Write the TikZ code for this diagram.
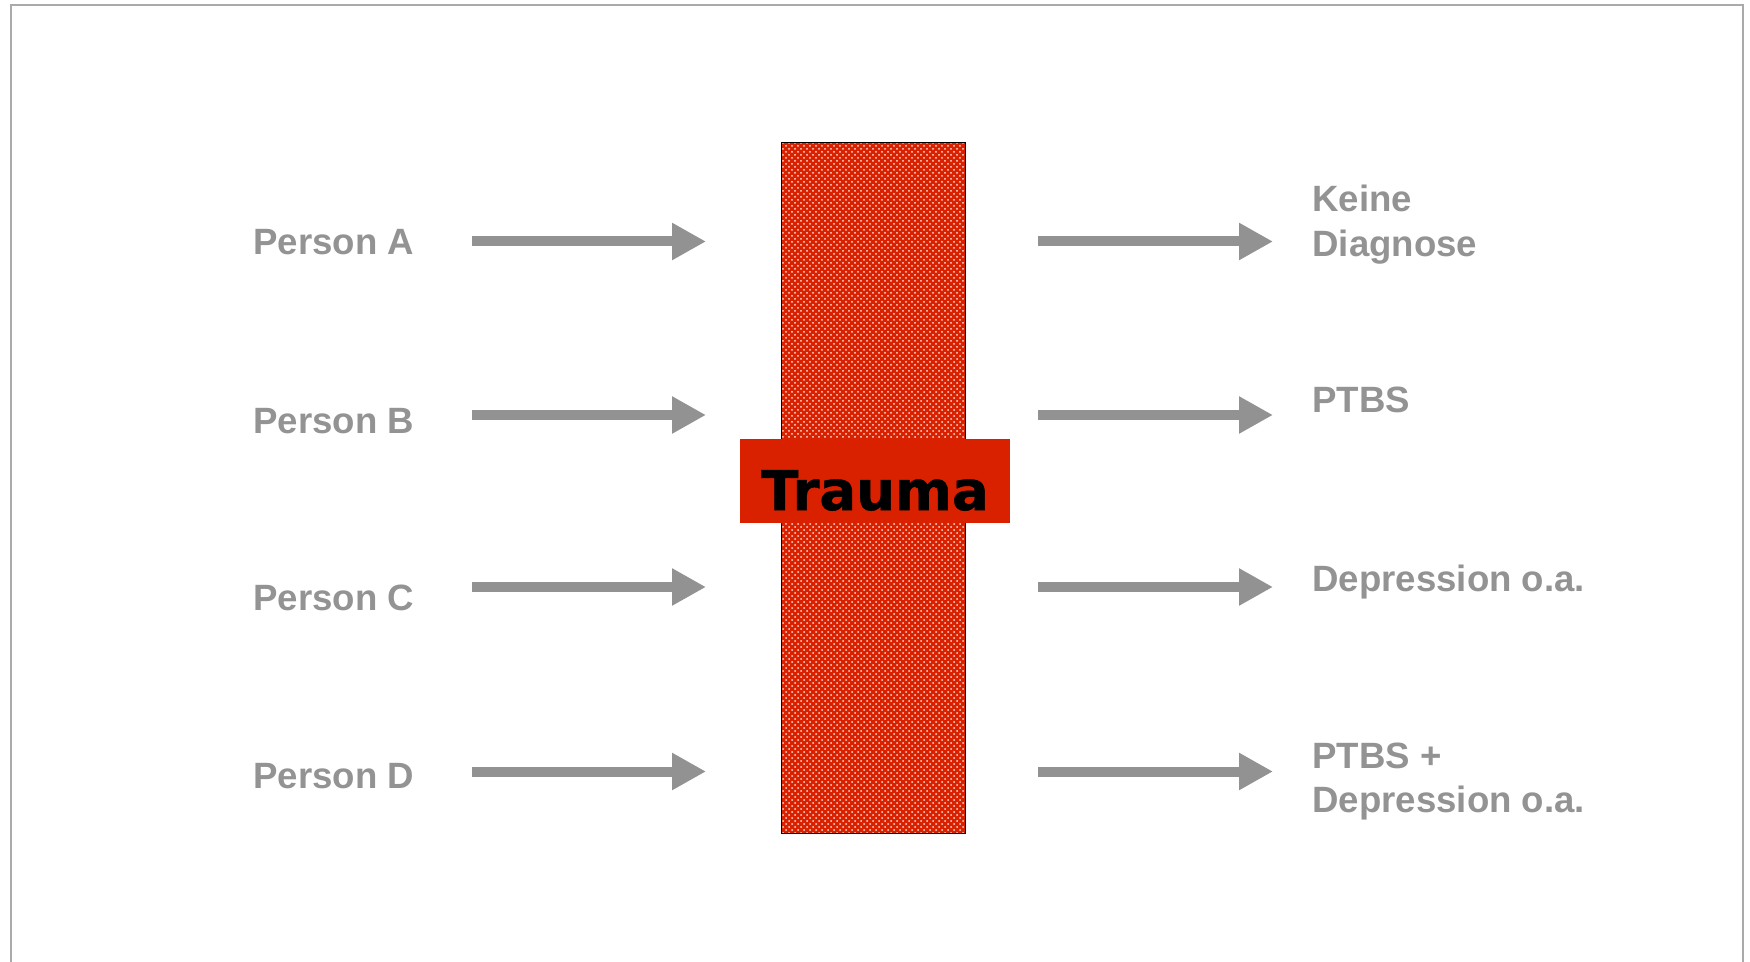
\documentclass[tikz,border=0pt]{standalone}
\usepackage{fontspec}
\setmainfont{Liberation Sans}
\newfontfamily\heavyfont{DejaVu Sans}[BoldFeatures={FakeBold=1}]
\usepackage{xcolor}
\usetikzlibrary{arrows.meta, patterns}
\definecolor{traumared}{RGB}{217,33,0}
\definecolor{labelgray}{RGB}{147,147,147}
\definecolor{arrowgray}{RGB}{146,146,146}
\definecolor{framegray}{RGB}{170,170,170}

\begin{document}
\begin{tikzpicture}[
    x=0.5pt, y=-0.5pt,
    person/.style={anchor=base west, inner sep=0pt, text=labelgray, font=\fontsize{18.3}{22.2}\selectfont\bfseries},
    outcome/.style={person, align=left},
    line/.style={draw=arrowgray, line width=5pt, -{Triangle[length=17pt, width=17.5pt]}},
    barbox/.style={rectangle, draw=black, line width=0.5pt, minimum width=92pt, minimum height=345pt, inner sep=0pt,
        preaction={fill=traumared}, pattern=crosshatch dots, pattern color=white!85!traumared},
    traumabox/.style={rectangle, fill=traumared, minimum width=135pt, minimum height=42pt, inner sep=0pt},
]
\useasboundingbox (0,0) rectangle (1750,962);
\draw [framegray, line width=1pt] (10.5,962) -- (10.5,5.5) -- (1743,5.5) -- (1743,962);

% the trauma bar
\node [barbox] (bar) at (873,488) {};
\node [traumabox] (tbox) at (875,481) {};
\node [anchor=base, inner sep=0pt, font=\heavyfont\bfseries\fontsize{27.3}{30}\selectfont] (tlabel) at (875,510) {Trauma};

% persons
\node [person] (pa) at (253,255) {Person A};
\node [person] (pb) at (253,433) {Person B};
\node [person] (pc) at (253,610) {Person C};
\node [person] (pd) at (253,788) {Person D};

% outcomes (base = last line)
\node [outcome] (oa) at (1312,256.4) {Keine\\Diagnose};
\node [outcome] (ob) at (1312,412.5) {PTBS};
\node [outcome] (oc) at (1312,591) {Depression o.a.};
\node [outcome] (od) at (1312,812.9) {PTBS +\\Depression o.a.};

% arrow ends
\coordinate (la1) at (472,241.5);  \coordinate (la2) at (706,241.5);
\coordinate (lb1) at (472,415);    \coordinate (lb2) at (706,415);
\coordinate (lc1) at (472,587);    \coordinate (lc2) at (706,587);
\coordinate (ld1) at (472,771.5);  \coordinate (ld2) at (706,771.5);
\coordinate (ra1) at (1038,241.5); \coordinate (ra2) at (1273,241.5);
\coordinate (rb1) at (1038,415);   \coordinate (rb2) at (1273,415);
\coordinate (rc1) at (1038,587);   \coordinate (rc2) at (1273,587);
\coordinate (rd1) at (1038,771.5); \coordinate (rd2) at (1273,771.5);

\path [line] (la1) -- (la2);
\path [line] (lb1) -- (lb2);
\path [line] (lc1) -- (lc2);
\path [line] (ld1) -- (ld2);
\path [line] (ra1) -- (ra2);
\path [line] (rb1) -- (rb2);
\path [line] (rc1) -- (rc2);
\path [line] (rd1) -- (rd2);
\end{tikzpicture}
\end{document}
